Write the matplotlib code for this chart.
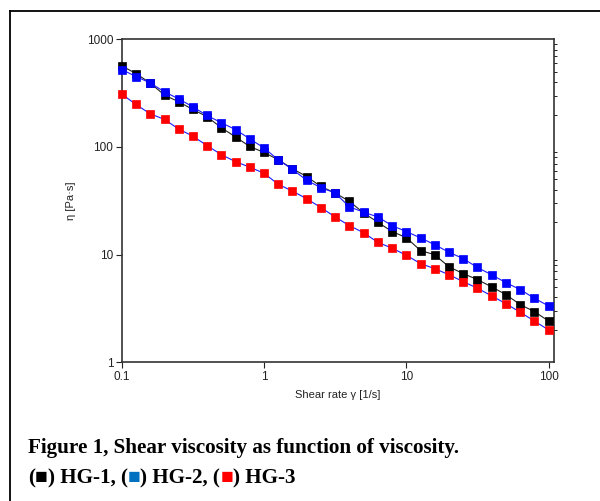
import matplotlib
matplotlib.use('Agg')
import matplotlib.pyplot as plt
from matplotlib.lines import Line2D

# shear rate [1/s]
shear_rate = [0.1, 0.126, 0.158, 0.2, 0.251, 0.316, 0.398, 0.501, 0.631, 0.794,
              1, 1.26, 1.58, 2, 2.51, 3.16, 3.98, 5.01, 6.31, 7.94,
              10, 12.6, 15.8, 20, 25.1, 31.6, 39.8, 50.1, 63.1, 79.4, 100]

# viscosity [Pa s]
hg1 = [566, 481, 394, 303, 263, 223, 191, 151, 124, 101,
       89, 76, 63, 53, 43, 37.4, 31.3, 24.4, 20.0, 16.4,
       14.4, 10.9, 10.0, 7.69, 6.67, 5.87, 5.02, 4.26, 3.44, 2.96, 2.42]
hg2 = [524, 451, 394, 325, 280, 236, 196, 168, 145, 119,
       98, 76, 62, 49, 41.9, 37.4, 27.8, 24.8, 22.4, 18.6,
       16.4, 14.3, 12.4, 10.5, 9.2, 7.6, 6.5, 5.5, 4.74, 3.94, 3.34]
hg3 = [310, 248, 204, 180, 147, 126, 103, 85, 73, 65,
       57, 45, 39, 33, 27.4, 22.4, 18.6, 16.0, 13.0, 11.5,
       9.87, 8.26, 7.42, 6.5, 5.62, 4.88, 4.14, 3.51, 2.92, 2.42, 2.00]

xticks = [0.1, 1, 10, 100]
xticklabels = ['0.1', '1', '10', '100']
yticks = [1, 10, 100, 1000]
yticklabels = ['1', '10', '100', '1000']

plt.rcParams['font.family'] = ['Liberation Sans', 'DejaVu Sans']

fig = plt.figure(figsize=(6, 5.01), dpi=100)
ax = fig.add_axes([0.2028, 0.2768, 0.7213, 0.6448])

ax.plot(shear_rate, hg1, color='#202020', lw=0.8, marker='s', ms=5.2,
        mfc='black', mec='black', mew=0.5, zorder=3, clip_on=False)
ax.plot(shear_rate, hg2, color='#1a1aff', lw=0.8, marker='s', ms=5.2,
        mfc='#0000ff', mec='#0000ff', mew=0.5, zorder=4, clip_on=False)
ax.plot(shear_rate, hg3, color='#1a1aff', lw=0.8, marker='s', ms=5.2,
        mfc='#ff0000', mec='#ff0000', mew=0.5, zorder=4, clip_on=False)

ax.set_xscale('log')
ax.set_yscale('log')
ax.set_xlim(0.1, 110)
ax.set_ylim(1, 1000)

ax.set_xticks(xticks)
ax.set_xticklabels(xticklabels)
ax.set_yticks(yticks)
ax.set_yticklabels(yticklabels)
ax.minorticks_off()
ax.tick_params(axis='both', which='major', direction='out', length=4, width=0.8,
               labelsize=8.5, pad=2, colors='#222222', labelcolor='#222222')

for s in ax.spines.values():
    s.set_linewidth(1.2)
    s.set_color('#333333')

# little minor ticks on right side
ax2 = ax.twinx()
ax2.set_yscale('log')
ax2.set_ylim(1, 1000)
ax2.tick_params(axis='y', which='both', direction='out', length=2, width=0.6,
                labelright=False)
ax2.tick_params(axis='y', which='major', length=0)
for s in ax2.spines.values():
    s.set_visible(False)

ax.set_xlabel('Shear rate γ [1/s]', fontsize=8, labelpad=5, color='#222222')
ax.set_ylabel('η [Pa·s]', fontsize=8, labelpad=8, color='#222222')

# border around the figure panel
fig.add_artist(Line2D([10/600, 10/600], [0, 1 - 11/501], color='black', lw=1.3,
                      transform=fig.transFigure))
fig.add_artist(Line2D([10/600, 1], [1 - 11/501, 1 - 11/501], color='black', lw=1.3,
                      transform=fig.transFigure))

# caption
cap = dict(family=['Liberation Serif', 'DejaVu Serif'], fontsize=15.2,
           fontweight='bold', va='baseline')
fig.text(28/600, 48/501, 'Figure 1, Shear viscosity as function of viscosity.', **cap)

pieces = [('(', 'black'), ('■', 'black'), (') HG-1, (', 'black'),
          ('■', '#0070c0'), (') HG-2, (', 'black'), ('■', '#ff0000'),
          (') HG-3', 'black')]
renderer = fig.canvas.get_renderer()
xpos = 28
for txt, col in pieces:
    t = fig.text(xpos/600, 18/501, txt, color=col, **cap)
    bb = t.get_window_extent(renderer=renderer)
    xpos = bb.x1

fig.savefig('out.png', dpi=100)
